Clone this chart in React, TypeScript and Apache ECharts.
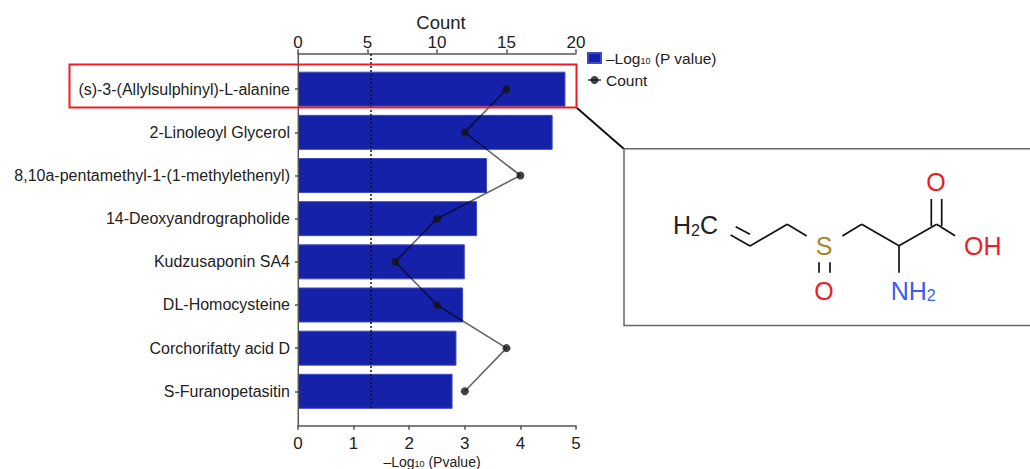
import React, { useEffect, useRef } from "react";
import * as echarts from "echarts";

const categories = [
  "(s)-3-(Allylsulphinyl)-L-alanine",
  "2-Linoleoyl Glycerol",
  "8,10a-pentamethyl-1-(1-methylethenyl)",
  "14-Deoxyandrographolide",
  "Kudzusaponin SA4",
  "DL-Homocysteine",
  "Corchorifatty acid D",
  "S-Furanopetasitin",
];
const logP = [4.81, 4.58, 3.4, 3.22, 3.0, 2.97, 2.85, 2.78];
const counts = [15, 12, 16, 10, 7, 10, 15, 12];
const threshold = 1.3;
const BAR_NAME = "–Log10 (P value)";
const LINE_NAME = "Count";

const bonds = [
  [730.7, 235, 750, 246],
  [735.7, 226.7, 750, 234.3],
  [750, 246, 787.3, 224.3],
  [787.3, 224.3, 806.7, 236],
  [819, 262.3, 819, 272.7],
  [830, 262.3, 830, 272.7],
  [842.3, 236, 861.7, 224.3],
  [861.7, 224.3, 899, 245.7],
  [899, 245.7, 899, 272.7],
  [899, 245.7, 936.7, 224.3],
  [931.3, 199, 931.3, 226],
  [941.7, 199, 941.7, 226],
  [936.7, 224.3, 955, 235.7],
];

const FONT = '"Liberation Sans", Arial, sans-serif';
const atom = (x: number, y: number, text: string, fill: string, align = "center") => ({
  type: "text",
  z: 100,
  x,
  y,
  style: {
    text,
    fill,
    font: `25px ${FONT}`,
    fontFamily: FONT,
    fontSize: 25,
    align,
    verticalAlign: "middle",
    rich: {
      s: { fontSize: 16, fill, fontFamily: FONT, padding: [10, 0, 0, 0] },
    },
  },
});

const seg = (x1: number, y1: number, x2: number, y2: number, stroke: string, lineWidth: number, z = 100) => ({
  type: "line",
  z,
  shape: { x1, y1, x2, y2 },
  style: { stroke, lineWidth },
});

export default function App() {
  const ref = useRef<HTMLDivElement>(null);
  useEffect(() => {
    const chart = echarts.init(ref.current!, undefined, { renderer: "svg" });
    chart.setOption({
      animation: false,
      backgroundColor: "#fff",
      textStyle: { fontFamily: FONT },
      grid: { left: 298, width: 278, top: 67.6, height: 345.3, outerBoundsMode: "none" },
      legend: {
        left: 582,
        top: 45,
        orient: "vertical",
        itemWidth: 13,
        itemHeight: 10,
        itemGap: 6,
        selectedMode: false,
        data: [{ name: BAR_NAME, icon: "rect" }, { name: LINE_NAME }],
        formatter: (n: string) => (n === BAR_NAME ? "{a|–Log}{s|10}{a| (P value)}" : "{a|Count}"),
        textStyle: {
          rich: {
            a: { fontSize: 15.5, color: "#222", fontFamily: FONT },
            s: { fontSize: 9, color: "#222", fontFamily: FONT, padding: [6, 0, 0, 0] },
          },
        },
      },
      xAxis: [
        {
          type: "value",
          position: "bottom",
          min: 0,
          max: 5,
          interval: 1,
          offset: 12.8,
          splitLine: { show: false },
          axisLine: { show: true, onZero: false, lineStyle: { color: "#555", width: 1.5 } },
          axisTick: { show: true, length: 4, lineStyle: { color: "#555", width: 1.5 } },
          axisLabel: { fontSize: 17, color: "#222", margin: 9, fontFamily: FONT },
          name: "{a|–Log}{s|10}{a| (Pvalue)}",
          nameLocation: "middle",
          nameMoveOverlap: false,
          nameGap: 29,
          nameTextStyle: {
            padding: [0, 10, 0, 0],
            rich: {
              a: { fontSize: 14, color: "#222", fontFamily: FONT },
              s: { fontSize: 9, color: "#222", fontFamily: FONT, padding: [4, 0, 0, 0] },
            },
          },
        },
        {
          type: "value",
          position: "top",
          min: 0,
          max: 20,
          interval: 5,
          offset: 14.3,
          splitLine: { show: false },
          axisLine: { show: true, onZero: false, lineStyle: { color: "#555", width: 1.5 } },
          axisTick: { show: true, length: 4, lineStyle: { color: "#555", width: 1.5 } },
          axisLabel: { fontSize: 17, color: "#222", margin: 2, fontFamily: FONT },
          name: "Count",
          nameLocation: "middle",
          nameMoveOverlap: false,
          nameGap: 21,
          nameTextStyle: { fontSize: 18.5, color: "#222", fontFamily: FONT, padding: [0, 0, 0, 8] },
        },
      ],
      yAxis: {
        type: "category",
        inverse: true,
        data: categories,
        axisLine: { show: false },
        axisTick: { show: true, length: 3, alignWithLabel: true, lineStyle: { color: "#555", width: 1.5 } },
        axisLabel: { fontSize: 16, color: "#222", margin: 8, fontFamily: FONT },
      },
      series: [
        {
          name: BAR_NAME,
          type: "bar",
          xAxisIndex: 0,
          data: logP,
          barWidth: 35,
          itemStyle: { color: "#1521a8", borderColor: "#3f4bc4", borderWidth: 1 },
          markLine: {
            silent: true,
            symbol: "none",
            label: { show: false },
            lineStyle: { color: "#111", type: [2, 2], width: 1.5 },
            data: [[{ xAxis: threshold, y: 54 }, { xAxis: threshold, y: 408 }]],
          },
        },
        {
          name: LINE_NAME,
          type: "line",
          xAxisIndex: 1,
          data: counts,
          symbol: "circle",
          symbolSize: 8,
          z: 5,
          itemStyle: { color: "rgba(20,20,20,0.8)" },
          lineStyle: { color: "rgba(0,0,0,0.6)", width: 1.6 },
        },
      ],
      graphic: [
        seg(298.3, 53, 298.3, 426, "#555", 1.5, 50),
        {
          type: "rect",
          z: 100,
          shape: { x: 69.5, y: 64.5, width: 507, height: 43 },
          style: { fill: "none", stroke: "#ee1c25", lineWidth: 2 },
        },
        seg(577, 108, 624, 149, "#111", 2),
        {
          type: "polyline",
          z: 100,
          shape: { points: [[1030, 148.7], [624, 148.7], [624, 325.5], [1030, 325.5]] },
          style: { fill: "none", stroke: "#666", lineWidth: 1.5 },
        },
        ...bonds.map((b) => seg(b[0], b[1], b[2], b[3], "#111", 1.7)),
        atom(673, 225, "{a|H}{s|2}{a|C}", "#222", "left"),
        atom(824, 246, "S", "#a8892a"),
        atom(824, 290.7, "O", "#ee1c25"),
        atom(936, 182.3, "O", "#ee1c25"),
        atom(982.7, 246, "OH", "#ee1c25"),
        atom(890.7, 290.7, "{a|NH}{s|2}", "#3a5cf0", "left"),
      ],
    });
    return () => chart.dispose();
  }, []);
  return <div ref={ref} style={{ position: "absolute", left: 0, top: 0, width: 1030, height: 469 }} />;
}
